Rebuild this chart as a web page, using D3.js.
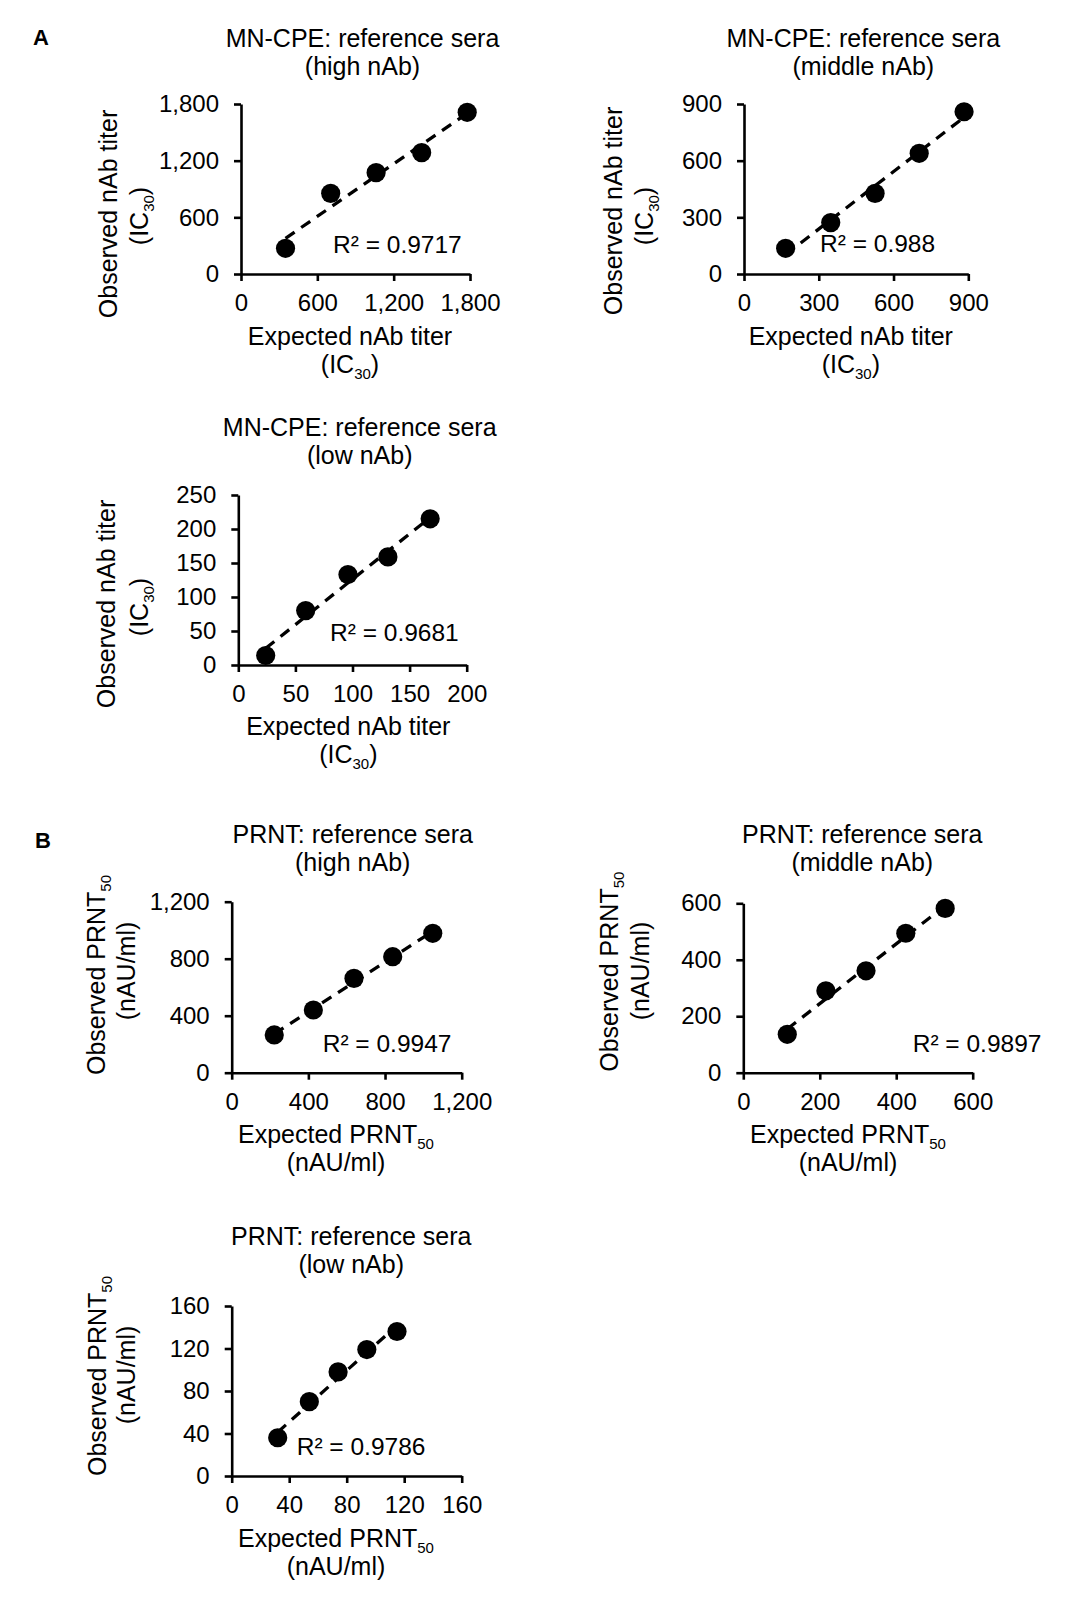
<!DOCTYPE html>
<html>
<head>
<meta charset="utf-8">
<script src="https://cdn.jsdelivr.net/npm/d3@7"></script>
<style>
  body { margin: 0; background: #fff; }
  svg text { font-family: "Liberation Sans", Arial, sans-serif; fill: #000; }
</style>
</head>
<body>
<div id="chart"></div>
<script>
// values (expected vs observed titers)
const mnHighExpected = [350, 705, 1062, 1420, 1778];
const mnHighObserved = [272, 854, 1073, 1285, 1712];
const mnMidExpected = [167, 348, 526, 703, 883];
const mnMidObserved = [136, 272, 427, 639, 859];
const mnLowExpected = [24, 59, 96, 131, 168];
const mnLowObserved = [14, 80, 133, 159, 215];
const prntHighExpected = [222, 426, 638, 840, 1049];
const prntHighObserved = [265, 440, 662, 814, 978];
const prntMidExpected = [115, 216, 321, 425, 528];
const prntMidObserved = [136, 290, 361, 494, 582];
const prntLowExpected = [32, 54, 74, 94, 115];
const prntLowObserved = [36, 70, 98, 119, 136];

// tick labels
const mnHighTicks = [0, 600, 1200, 1800];
const mnMidTicks = [0, 300, 600, 900];
const mnLowXTicks = [0, 50, 100, 150, 200];
const mnLowYTicks = [0, 50, 100, 150, 200, 250];
const prntHighTicks = [0, 400, 800, 1200];
const prntMidTicks = [0, 200, 400, 600];
const prntLowTicks = [0, 40, 80, 120, 160];

const rSquared = ["0.9717", "0.988", "0.9681", "0.9947", "0.9897", "0.9786"];
const levels = ["high nAb", "middle nAb", "low nAb"];

const width = 1071, height = 1608;
const svg = d3.select("#chart")
    .append("svg")
    .attr("width", width)
    .attr("height", height);

// panel letters
svg.append("text").attr("x", 33).attr("y", 45).attr("font-size", 22).attr("font-weight", "bold").text("A");
svg.append("text").attr("x", 35).attr("y", 848).attr("font-size", 22).attr("font-weight", "bold").text("B");

// layout of each small chart
const panels = [
    { xs: mnHighExpected, ys: mnHighObserved, xTicks: mnHighTicks, yTicks: mnHighTicks, r2: rSquared[0],
      title: "MN-CPE: reference sera", level: levels[0], kind: "mn",
      left: 241, right: 470, top: 104, bottom: 274, tx: 362.5, ty: 46.7,
      y1: [117, 214], y2: [148, 216], xl: [350, 345], r2pos: [333, 253] },
    { xs: mnMidExpected, ys: mnMidObserved, xTicks: mnMidTicks, yTicks: mnMidTicks, r2: rSquared[1],
      title: "MN-CPE: reference sera", level: levels[1], kind: "mn",
      left: 744, right: 968.3, top: 104, bottom: 274, tx: 863.3, ty: 46.7,
      y1: [621.7, 211], y2: [653, 216], xl: [850.8, 345], r2pos: [820, 251.7] },
    { xs: mnLowExpected, ys: mnLowObserved, xTicks: mnLowXTicks, yTicks: mnLowYTicks, r2: rSquared[2],
      title: "MN-CPE: reference sera", level: levels[2], kind: "mn",
      left: 238.3, right: 466.7, top: 495, bottom: 665, tx: 359.7, ty: 436,
      y1: [115, 604], y2: [148, 607], xl: [348.3, 735], r2pos: [330, 640.7] },
    { xs: prntHighExpected, ys: prntHighObserved, xTicks: prntHighTicks, yTicks: prntHighTicks, r2: rSquared[3],
      title: "PRNT: reference sera", level: levels[0], kind: "prnt",
      left: 231.7, right: 461.7, top: 901.7, bottom: 1072.7, tx: 352.7, ty: 842.7,
      y1: [105, 975], y2: [135, 971], xl: [336, 1143.3], r2pos: [322.7, 1051.7] },
    { xs: prntMidExpected, ys: prntMidObserved, xTicks: prntMidTicks, yTicks: prntMidTicks, r2: rSquared[4],
      title: "PRNT: reference sera", level: levels[1], kind: "prnt",
      left: 743.3, right: 972.7, top: 903.3, bottom: 1072.7, tx: 862.3, ty: 842.7,
      y1: [618.3, 971.7], y2: [649, 971], xl: [848, 1143.3], r2pos: [912.7, 1051.7] },
    { xs: prntLowExpected, ys: prntLowObserved, xTicks: prntLowTicks, yTicks: prntLowTicks, r2: rSquared[5],
      title: "PRNT: reference sera", level: levels[2], kind: "prnt",
      left: 231.7, right: 461.7, top: 1306, bottom: 1476, tx: 351.2, ty: 1245,
      y1: [105.7, 1376], y2: [134.5, 1375], xl: [336, 1546.7], r2pos: [296.7, 1455] }
];

const fmt = d3.format(",");

// writes "main" + subscript + "after" into a text element
function subText(sel, main, sub, after) {
    sel.append("tspan").text(main);
    sel.append("tspan").attr("font-size", 15).attr("dy", 6).text(sub);
    if (after) sel.append("tspan").attr("dy", -6).text(after);
}

function drawPanel(p) {
    const g = svg.append("g");

    const x = d3.scaleLinear().domain([0, d3.max(p.xTicks)]).range([p.left, p.right]);
    const y = d3.scaleLinear().domain([0, d3.max(p.yTicks)]).range([p.bottom, p.top]);

    // title
    g.append("text").attr("x", p.tx).attr("y", p.ty).attr("text-anchor", "middle")
        .attr("font-size", 25).text(p.title);
    g.append("text").attr("x", p.tx).attr("y", p.ty + 28).attr("text-anchor", "middle")
        .attr("font-size", 25).text("(" + p.level + ")");

    // axes
    const xAxis = g.append("g")
        .attr("transform", `translate(0,${p.bottom})`)
        .call(d3.axisBottom(x).tickValues(p.xTicks).tickFormat(fmt)
            .tickSize(7).tickSizeOuter(0).tickPadding(13));
    const yAxis = g.append("g")
        .attr("transform", `translate(${p.left},0)`)
        .call(d3.axisLeft(y).tickValues(p.yTicks).tickFormat(fmt)
            .tickSize(7).tickSizeOuter(0).tickPadding(15));
    [xAxis, yAxis].forEach(a => {
        a.select(".domain").attr("stroke", "#000").attr("stroke-width", 2.6);
        a.selectAll(".tick line").attr("stroke", "#000").attr("stroke-width", 2.6);
        a.selectAll(".tick text").attr("font-size", 24).attr("fill", "#000")
            .attr("font-family", "Liberation Sans, Arial, sans-serif");
    });

    // linear trendline (least squares)
    const mx = d3.mean(p.xs), my = d3.mean(p.ys);
    const slope = d3.sum(p.xs, (d, i) => (d - mx) * (p.ys[i] - my)) / d3.sum(p.xs, d => (d - mx) ** 2);
    const icpt = my - slope * mx;
    const x0 = d3.min(p.xs), x1 = d3.max(p.xs);
    g.append("line")
        .attr("x1", x(x0)).attr("y1", y(icpt + slope * x0))
        .attr("x2", x(x1)).attr("y2", y(icpt + slope * x1))
        .attr("stroke", "#000").attr("stroke-width", 3.3)
        .attr("stroke-dasharray", "11,8");

    // points
    g.selectAll("circle")
        .data(p.xs.map((d, i) => [d, p.ys[i]]))
        .join("circle")
        .attr("cx", d => x(d[0]))
        .attr("cy", d => y(d[1]))
        .attr("r", 9.6)
        .attr("fill", "#000");

    // R² label
    g.append("text").attr("x", p.r2pos[0]).attr("y", p.r2pos[1])
        .attr("font-size", 24.5).text("R\u00b2 = " + p.r2);

    // x axis label
    const xl1 = g.append("text").attr("x", p.xl[0]).attr("y", p.xl[1])
        .attr("text-anchor", "middle").attr("font-size", 25);
    const xl2 = g.append("text").attr("x", p.xl[0]).attr("y", p.xl[1] + 28)
        .attr("text-anchor", "middle").attr("font-size", 25);

    // y axis label (rotated)
    const yl1 = g.append("text").attr("transform", `translate(${p.y1[0]},${p.y1[1]}) rotate(-90)`)
        .attr("text-anchor", "middle").attr("font-size", 25);
    const yl2 = g.append("text").attr("transform", `translate(${p.y2[0]},${p.y2[1]}) rotate(-90)`)
        .attr("text-anchor", "middle").attr("font-size", 25);

    if (p.kind === "mn") {
        xl1.text("Expected nAb titer");
        subText(xl2, "(IC", "30", ")");
        yl1.text("Observed nAb titer");
        subText(yl2, "(IC", "30", ")");
    } else {
        subText(xl1, "Expected PRNT", "50");
        xl2.text("(nAU/ml)");
        subText(yl1, "Observed PRNT", "50");
        yl2.text("(nAU/ml)");
    }
}

panels.forEach(drawPanel);
</script>
</body>
</html>
